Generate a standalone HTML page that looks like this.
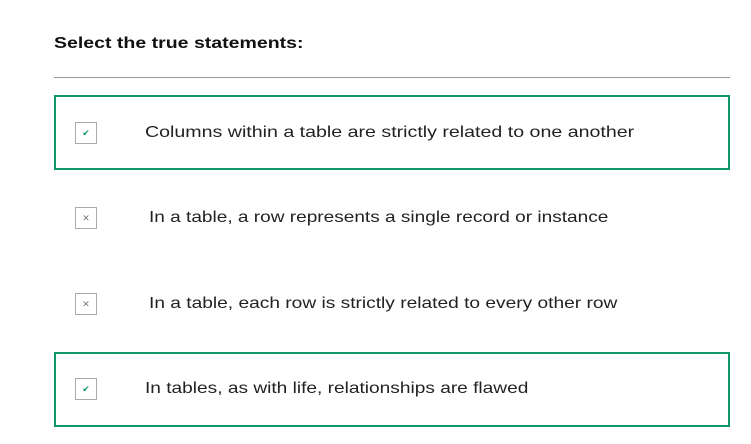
<!DOCTYPE html>
<html><head><style>
body{margin:0;width:751px;height:444px;background:#fff;font-family:"Liberation Sans",sans-serif;position:relative;overflow:hidden;color:#222}
.h{position:absolute;left:54px;top:35px;font-size:16px;font-weight:bold;color:#111;transform:scaleX(1.22);transform-origin:0 0;white-space:nowrap}
.line{position:absolute;left:54px;top:77px;width:676px;height:1px;background:#999}
.box{position:absolute;left:54px;width:672px;height:71px;border:2px solid #109668}
.cb{position:absolute;left:75px;width:20px;height:20px;border:1px solid #aaa;background:#fff;font-size:9px;text-align:center;line-height:20px}
.t{position:absolute;font-size:16px;color:#222;transform-origin:0 0;white-space:nowrap}
</style></head><body>
<div class="h">Select the true statements:</div>
<div class="line"></div>
<div class="box" style="top:95px"></div>
<div class="cb" style="top:122px;color:#109668">&#10004;</div>
<div class="t" style="left:145px;top:124px;transform:scaleX(1.225)">Columns within a table are strictly related to one another</div>
<div class="cb" style="top:207px;color:#777">&#10005;</div>
<div class="t" style="left:149px;top:209px;transform:scaleX(1.19)">In a table, a row represents a single record or instance</div>
<div class="cb" style="top:293px;color:#777">&#10005;</div>
<div class="t" style="left:149px;top:295px;transform:scaleX(1.197)">In a table, each row is strictly related to every other row</div>
<div class="box" style="top:352px"></div>
<div class="cb" style="top:378px;color:#109668">&#10004;</div>
<div class="t" style="left:145px;top:380px;transform:scaleX(1.194)">In tables, as with life, relationships are flawed</div>
</body></html>
